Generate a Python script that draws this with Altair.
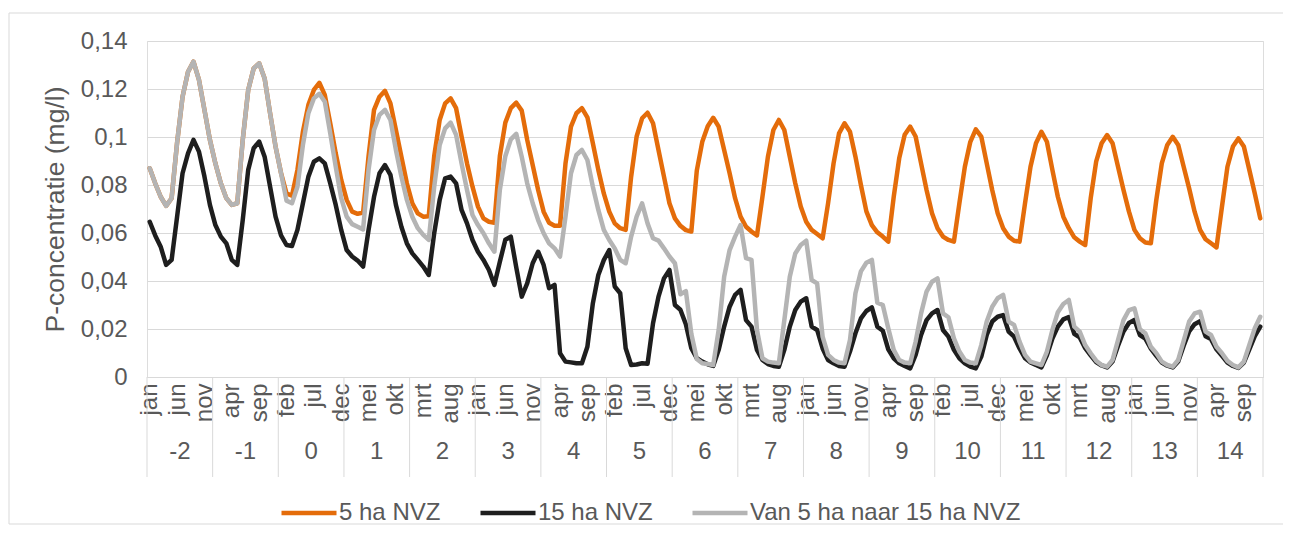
import altair as alt
import pandas as pd

FONT = "Liberation Sans"
TXT = "#595959"
GRID = "#D9D9D9"

MONTHS = ["jan", "feb", "mrt", "apr", "mei", "jun", "jul", "aug", "sep", "okt", "nov", "dec"]
YEARS = list(range(-2, 15))
SERIES = ["5 ha NVZ", "15 ha NVZ", "Van 5 ha naar 15 ha NVZ"]
COLORS = ["#E46C0A", "#1E1E1E", "#B4B4B4"]
Y_TICKS = [0, 0.02, 0.04, 0.06, 0.08, 0.1, 0.12, 0.14]

# monthly values, one row per year (-2 .. 14)
nvz5 = [
    0.087, 0.0807, 0.0751, 0.0713, 0.0745, 0.0976, 0.1168, 0.1272, 0.1314, 0.1238, 0.1113, 0.0988,
    0.089, 0.0807, 0.0745, 0.0717, 0.0724, 0.0988, 0.1196, 0.1286, 0.1307, 0.1244, 0.1099, 0.096,
    0.085, 0.0765, 0.0755, 0.0863, 0.1022, 0.1134, 0.1196, 0.1226, 0.1175, 0.1057, 0.0932, 0.0821,
    0.0738, 0.0689, 0.068, 0.0685, 0.092, 0.1113, 0.1168, 0.1192, 0.114, 0.1029, 0.0918, 0.0807,
    0.0724, 0.0682, 0.0668, 0.067, 0.092, 0.1071, 0.114, 0.1161, 0.112, 0.1002, 0.089, 0.0793,
    0.071, 0.0661, 0.0647, 0.0643, 0.092, 0.106, 0.112, 0.1143, 0.111, 0.0988, 0.0883, 0.0779,
    0.0689, 0.0643, 0.063, 0.063, 0.089, 0.1043, 0.1099, 0.112, 0.1082, 0.0974, 0.0863, 0.0765,
    0.0689, 0.064, 0.062, 0.0613, 0.0835, 0.1002, 0.1078, 0.1101, 0.1057, 0.0946, 0.0835, 0.0724,
    0.0661, 0.063, 0.0612, 0.0606, 0.086, 0.098, 0.1045, 0.108, 0.1043, 0.0946, 0.0849, 0.0745,
    0.0668, 0.0626, 0.0606, 0.059, 0.0751, 0.0918, 0.1029, 0.1071, 0.1029, 0.0918, 0.0807, 0.071,
    0.0647, 0.0613, 0.0596, 0.0578, 0.0724, 0.089, 0.1015, 0.1057, 0.1022, 0.0918, 0.08, 0.069,
    0.0633, 0.0603, 0.0585, 0.0564, 0.0751, 0.0911, 0.1009, 0.1043, 0.1002, 0.089, 0.0779, 0.0682,
    0.062, 0.0585, 0.0571, 0.0564, 0.0724, 0.0876, 0.098, 0.1032, 0.1002, 0.089, 0.0779, 0.0682,
    0.062, 0.0585, 0.0568, 0.0564, 0.0724, 0.0876, 0.0974, 0.1022, 0.098, 0.0863, 0.0751, 0.0668,
    0.062, 0.0582, 0.0564, 0.055, 0.0744, 0.0897, 0.0974, 0.1008, 0.0974, 0.0876, 0.0779, 0.0689,
    0.0613, 0.0578, 0.056, 0.0557, 0.0738, 0.089, 0.0967, 0.1001, 0.0967, 0.0876, 0.0786, 0.0689,
    0.0613, 0.0574, 0.0557, 0.054, 0.071, 0.0876, 0.096, 0.0994, 0.096, 0.0863, 0.0765, 0.0661,
]

nvz15 = [
    0.0647, 0.059, 0.0543, 0.0467, 0.0488, 0.0668, 0.0849, 0.0932, 0.0988, 0.0939, 0.0835, 0.0717,
    0.0633, 0.0585, 0.0557, 0.0488, 0.0467, 0.0654, 0.0863, 0.0953, 0.0981, 0.0918, 0.0793, 0.0668,
    0.059, 0.055, 0.0546, 0.0613, 0.0724, 0.0835, 0.0897, 0.0911, 0.089, 0.0807, 0.0717, 0.0613,
    0.0529, 0.0502, 0.0485, 0.046, 0.0613, 0.0751, 0.0849, 0.0883, 0.0842, 0.0717, 0.0626, 0.0557,
    0.0515, 0.0488, 0.046, 0.0425, 0.0599, 0.0738, 0.0828, 0.0835, 0.0807, 0.0696, 0.064, 0.0571,
    0.0522, 0.0488, 0.0446, 0.0384, 0.048, 0.0572, 0.0585, 0.0457, 0.0335, 0.039, 0.0474, 0.0522,
    0.0467, 0.037, 0.0384, 0.0099, 0.0064, 0.0061, 0.0057, 0.0057, 0.0126, 0.0307, 0.0425, 0.0487,
    0.0529, 0.0377, 0.0349, 0.012, 0.005, 0.0052, 0.0057, 0.0055, 0.0224, 0.0335, 0.0411, 0.0446,
    0.030, 0.028, 0.022, 0.012, 0.0078, 0.0064, 0.0053, 0.0046, 0.0113, 0.021, 0.0293, 0.0342,
    0.0363, 0.0237, 0.021, 0.0113, 0.0071, 0.0054, 0.0046, 0.0043, 0.0113, 0.021, 0.0279, 0.0314,
    0.0328, 0.021, 0.0196, 0.0119, 0.0071, 0.0057, 0.0046, 0.0043, 0.0106, 0.0182, 0.0244, 0.0275,
    0.029, 0.021, 0.0193, 0.0115, 0.0078, 0.0057, 0.0046, 0.0036, 0.0092, 0.0175, 0.0237, 0.0265,
    0.0279, 0.0196, 0.0168, 0.0113, 0.0078, 0.0057, 0.0043, 0.0036, 0.0085, 0.0175, 0.0231, 0.0251,
    0.0258, 0.0189, 0.0168, 0.0119, 0.0078, 0.0061, 0.005, 0.004, 0.009, 0.016, 0.021, 0.024,
    0.025, 0.018, 0.0165, 0.012, 0.009, 0.0062, 0.0048, 0.004, 0.0065, 0.013, 0.019, 0.0225,
    0.0238, 0.0175, 0.016, 0.0118, 0.0088, 0.006, 0.0047, 0.004, 0.0065, 0.013, 0.019, 0.022,
    0.0233, 0.017, 0.0158, 0.0115, 0.0088, 0.006, 0.0046, 0.0038, 0.006, 0.0115, 0.017, 0.021,
]

nvz5_15 = [
    0.087, 0.0807, 0.0751, 0.0713, 0.0745, 0.0976, 0.1168, 0.1272, 0.1314, 0.1238, 0.1113, 0.0988,
    0.089, 0.0807, 0.0745, 0.0717, 0.0724, 0.0988, 0.1196, 0.1286, 0.1307, 0.1244, 0.1099, 0.096,
    0.0849, 0.0735, 0.0724, 0.0793, 0.0967, 0.1099, 0.1161, 0.118, 0.1147, 0.1015, 0.0876, 0.0745,
    0.0668, 0.0637, 0.0626, 0.0615, 0.0863, 0.1029, 0.1092, 0.1113, 0.1071, 0.0946, 0.0835, 0.0738,
    0.0668, 0.062, 0.0592, 0.0571, 0.0793, 0.0967, 0.1036, 0.106, 0.1009, 0.089, 0.0779, 0.0675,
    0.0633, 0.0599, 0.0557, 0.0522, 0.078, 0.092, 0.099, 0.1013, 0.0918, 0.0807, 0.0724, 0.0654,
    0.0599, 0.0557, 0.0536, 0.0502, 0.0668, 0.0849, 0.0925, 0.0946, 0.0904, 0.0793, 0.0696, 0.0613,
    0.0571, 0.0536, 0.0488, 0.0474, 0.0585, 0.0668, 0.0724, 0.064, 0.0578, 0.0568, 0.0536, 0.0502,
    0.0474, 0.0345, 0.0358, 0.018, 0.0075, 0.0057, 0.0054, 0.005, 0.0196, 0.0418, 0.0529, 0.0585,
    0.0633, 0.0495, 0.0488, 0.0196, 0.0078, 0.0064, 0.006, 0.0057, 0.0237, 0.0418, 0.0515, 0.055,
    0.0568, 0.0404, 0.039, 0.0168, 0.0092, 0.0071, 0.006, 0.0057, 0.0154, 0.0349, 0.044, 0.0476,
    0.0488, 0.031, 0.030, 0.0203, 0.0113, 0.0071, 0.006, 0.0057, 0.0147, 0.0265, 0.0356, 0.0397,
    0.0411, 0.0265, 0.0249, 0.0161, 0.0106, 0.0071, 0.006, 0.0057, 0.0133, 0.0231, 0.0293, 0.0328,
    0.0342, 0.0231, 0.0217, 0.0147, 0.0092, 0.0064, 0.0057, 0.005, 0.0106, 0.0196, 0.027, 0.0304,
    0.0321, 0.021, 0.0189, 0.0133, 0.0099, 0.0068, 0.005, 0.0043, 0.0071, 0.0154, 0.0237, 0.0279,
    0.0286, 0.0199, 0.0182, 0.0126, 0.0099, 0.0064, 0.005, 0.0043, 0.0071, 0.0151, 0.0231, 0.0265,
    0.0272, 0.0189, 0.0175, 0.0126, 0.0099, 0.0067, 0.005, 0.004, 0.0064, 0.0133, 0.0203, 0.0251,
]

N = len(MONTHS) * len(YEARS)
assert len(nvz5) == N and len(nvz15) == N and len(nvz5_15) == N

rows = []
for name, vals in zip(SERIES, [nvz5, nvz15, nvz5_15]):
    for i, v in enumerate(vals):
        rows.append({"t": i, "waarde": v, "reeks": name})
df = pd.DataFrame(rows)

sep_df = pd.DataFrame({"b": [12 * k - 0.5 for k in range(len(YEARS) + 1)]})
year_df = pd.DataFrame({"c": [12 * k + 5.5 for k in range(len(YEARS))],
                        "jaar": [str(y) for y in YEARS]})

W, H = 1116, 336
LBL = 24
xscale = alt.Scale(domain=[-0.5, N - 0.5], nice=False, zero=False)
yscale = alt.Scale(domain=[0, 0.14], nice=False)

month_expr = "[" + ",".join("'%s'" % m for m in MONTHS) + "][datum.value % 12]"

x_axis = alt.Axis(values=list(range(0, N, 5)), labelExpr=month_expr, labelAngle=270,
                  labelAlign="right", labelBaseline="middle", labelPadding=6,
                  ticks=False, grid=False, domainColor=GRID, domainWidth=1,
                  labelFontSize=LBL, labelColor=TXT, labelFont=FONT, title=None,
                  labelOverlap=False, labelFlush=False, labelBound=False)
y_axis = alt.Axis(values=Y_TICKS, labelExpr="replace(toString(datum.value), '.', ',')",
                  grid=True, gridColor=GRID, gridWidth=1, domain=False, ticks=False,
                  labelPadding=20, labelFontSize=LBL, labelColor=TXT, labelFont=FONT,
                  title="P-concentratie (mg/l)", titleFontSize=26.5, titleFontWeight="normal",
                  titleColor=TXT, titleFont=FONT, titleX=-92, titleY=168, titleAngle=270,
                  titleAlign="center", titleBaseline="middle")

legend = alt.Legend(orient="none", legendX=132, legendY=442, direction="horizontal",
                    title=None, symbolType="stroke", symbolSize=3025, symbolStrokeWidth=4.5,
                    labelFontSize=LBL, labelFont=FONT, labelColor=TXT, labelOffset=0,
                    labelLimit=500, columnPadding=30, padding=0)

color = alt.Color("reeks:N", scale=alt.Scale(domain=SERIES, range=COLORS), legend=legend)

layers = []
for s in SERIES:
    layers.append(
        alt.Chart(df).transform_filter(alt.datum.reeks == s)
        .mark_line(strokeWidth=4.5, strokeJoin="round", strokeCap="round")
        .encode(x=alt.X("t:Q", scale=xscale, axis=x_axis),
                y=alt.Y("waarde:Q", scale=yscale, axis=y_axis),
                color=color)
    )

seps = alt.Chart(sep_df).mark_rule(color=GRID, strokeWidth=1).encode(
    x=alt.X("b:Q", scale=xscale, axis=x_axis), y=alt.value(H), y2=alt.value(H + 100))

years = alt.Chart(year_df).mark_text(fontSize=LBL, font=FONT, color=TXT, baseline="middle").encode(
    x=alt.X("c:Q", scale=xscale, axis=x_axis), y=alt.value(H + 75), text="jaar:N")

border = alt.Chart(pd.DataFrame({"k": [0]})).mark_rect(
    fillOpacity=0, stroke=GRID, strokeWidth=1).encode(
    x=alt.value(-138), x2=alt.value(1137), y=alt.value(-28), y2=alt.value(483))

chart = alt.layer(border, seps, years, *layers).properties(
    width=W, height=H,
    padding={"left": 139, "top": 33, "right": 20, "bottom": 156},
    autosize=alt.AutoSizeParams(type="none"),
).configure_view(stroke=None).configure(background="white")

chart.save("out.html", embed_options={"renderer": "svg", "actions": False})
